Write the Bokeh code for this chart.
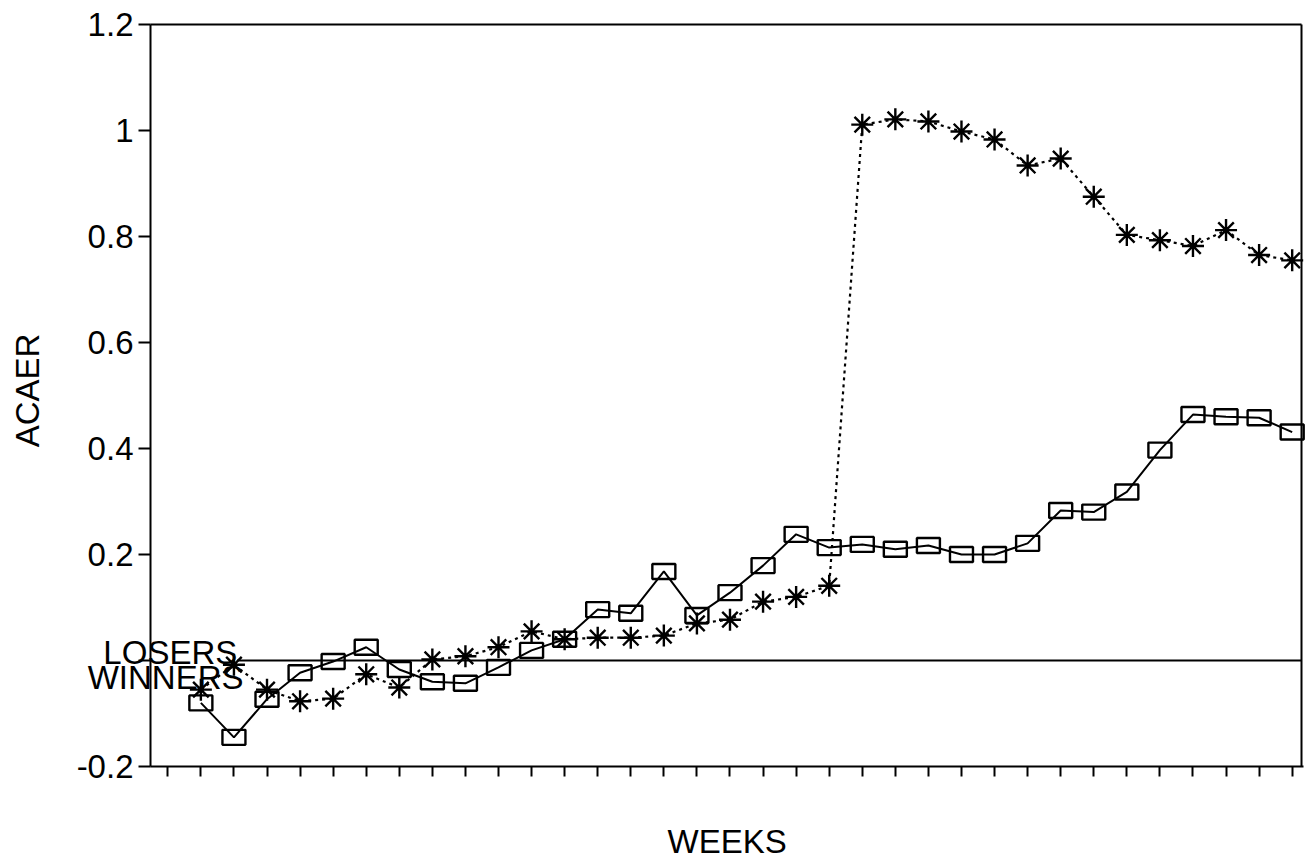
import math
from bokeh.plotting import figure
from bokeh.models import FixedTicker, Range1d, LinearAxis, Title
from bokeh.core.properties import value
from bokeh.embed import file_html
from bokeh.resources import INLINE

# ---- data ----
WEEKS = list(range(2, 36))
WINNERS = [-0.080, -0.145, -0.073, -0.023, -0.002, 0.025, -0.017, -0.040, -0.043, -0.013,
           0.019, 0.040, 0.096, 0.089, 0.168, 0.085, 0.128, 0.179, 0.238, 0.213,
           0.219, 0.210, 0.217, 0.200, 0.200, 0.221, 0.283, 0.280, 0.318, 0.397,
           0.464, 0.460, 0.458, 0.431]
LOSERS = [-0.055, -0.008, -0.055, -0.077, -0.072, -0.026, -0.051, 0.002, 0.008, 0.025,
          0.055, 0.040, 0.043, 0.043, 0.047, 0.070, 0.077, 0.111, 0.120, 0.141,
          1.011, 1.021, 1.017, 0.998, 0.983, 0.934, 0.947, 0.875, 0.803, 0.793,
          0.782, 0.812, 0.765, 0.755]
X_TICKS = list(range(1, 36))
Y_TICKS = [-0.2, 0.0, 0.2, 0.4, 0.6, 0.8, 1.0, 1.2]
Y_TICK_LABELS = {-0.2: "-0.2", 0.0: "", 0.2: "0.2", 0.4: "0.4", 0.6: "0.6",
                 0.8: "0.8", 1.0: "1", 1.2: "1.2"}
SERIES_LABELS = ["LOSERS", "WINNERS"]
X_TITLE = "WEEKS"
Y_TITLE = "ACAER"

FONT = "Liberation Sans"

# ---- layout constants (data-space positions of the drawn box) ----
Y_MIN, Y_MAX = -0.2, 1.2          # visible value axis
X_BOX_LEFT = 0.4768               # left axis line
X_BOX_RIGHT = 35.2819             # right border
X_AXIS_END = 35.3424              # bottom axis runs slightly past the border
X_TICKLABEL_POS = -1.4887         # anchor of the value labels

# The plotting area is made larger than the drawn box so that the series
# labels and the y title, which sit left of the axis in the original, are
# not clipped.
p = figure(width=1305, height=859, output_backend="svg", toolbar_location=None,
           x_range=Range1d(-3.6961, 35.4028), y_range=Range1d(-0.3019, 1.2377),
           x_axis_location=None, y_axis_location=None,
           min_border_left=12, min_border_right=0, min_border_top=4,
           min_border_bottom=0)
p.background_fill_color = "white"
p.border_fill_color = "white"
p.outline_line_color = None
p.grid.visible = False


def styled(ax, line=True):
    ax.minor_tick_in = 0
    ax.minor_tick_out = 0
    ax.minor_tick_line_color = None
    ax.axis_line_width = 2
    ax.axis_line_color = "black" if line else None
    ax.major_tick_line_width = 2
    ax.major_tick_line_color = "black"
    ax.major_label_text_font = FONT
    ax.major_label_text_font_size = "33px"
    ax.major_label_text_color = "black"
    ax.axis_label_text_font = FONT
    ax.axis_label_text_font_size = "33px"
    ax.axis_label_text_font_style = "normal"
    ax.axis_label_text_color = "black"
    return ax


# bottom axis (ticks pointing down, no labels)
x_axis = styled(LinearAxis(ticker=FixedTicker(ticks=X_TICKS),
                           major_label_overrides={t: "" for t in X_TICKS},
                           fixed_location=Y_MIN, bounds=(X_BOX_LEFT, X_AXIS_END),
                           major_tick_in=10, major_tick_out=0, major_label_standoff=0))
p.add_layout(x_axis, "above")

# top border
top_border = styled(LinearAxis(ticker=FixedTicker(ticks=[]), fixed_location=Y_MAX,
                               bounds=(X_BOX_LEFT, X_BOX_RIGHT), major_tick_in=0,
                               major_tick_out=0, major_label_standoff=0))
p.add_layout(top_border, "above")

# left axis line + ticks pointing left
y_ticks_axis = styled(LinearAxis(ticker=FixedTicker(ticks=Y_TICKS),
                                 major_label_overrides={t: "" for t in Y_TICKS},
                                 fixed_location=X_BOX_LEFT, bounds=(Y_MIN, Y_MAX),
                                 major_tick_in=12, major_tick_out=0,
                                 major_label_standoff=0))
p.add_layout(y_ticks_axis, "right")

# right border
right_border = styled(LinearAxis(ticker=FixedTicker(ticks=[]), fixed_location=X_BOX_RIGHT,
                                 bounds=(Y_MIN, Y_MAX), major_tick_in=0, major_tick_out=0,
                                 major_label_standoff=0))
p.add_layout(right_border, "right")

# value labels
y_label_axis = styled(LinearAxis(ticker=FixedTicker(ticks=Y_TICKS),
                                 major_label_overrides=Y_TICK_LABELS,
                                 fixed_location=X_TICKLABEL_POS, bounds=(Y_MIN, Y_MAX),
                                 major_tick_in=0, major_tick_out=0,
                                 major_label_standoff=-48), line=False)
y_label_axis.major_tick_line_color = None
p.add_layout(y_label_axis, "left")

# x title
p.add_layout(Title(text=X_TITLE, align="left", offset=655, vertical_align="bottom",
                   standoff=0, text_font=FONT, text_font_size="33px",
                   text_font_style="normal", text_color="black"), "below")

# y title (rotated text)
p.text(x=[-3.2576], y=[0.5094], text=[Y_TITLE], angle=math.pi / 2,
       text_font=value(FONT), text_font_size="33px", text_align="center",
       text_baseline="middle", text_color="black")

# zero reference line
p.segment(x0=[3.1], y0=[0.0], x1=[X_BOX_RIGHT], y1=[0.0], line_color="black",
          line_width=1.8)

# losers: dotted line with asterisks
p.line(WEEKS, LOSERS, line_color="black", line_width=2.2, line_dash="3 4")
p.scatter(WEEKS, LOSERS, marker="asterisk", size=22, line_color="black", line_width=2.4)

# winners: solid line with hollow rectangles
p.line(WEEKS, WINNERS, line_color="black", line_width=2)
p.rect(WEEKS, WINNERS, width=23, height=15, width_units="screen", height_units="screen",
       fill_alpha=0, line_color="black", line_width=2.4)

# series labels
p.text(x=[3.1, 3.29], y=[0.016, -0.033], text=SERIES_LABELS,
       text_font=value(FONT), text_font_size="33px", text_align="right",
       text_baseline="alphabetic", text_color="black")

open("out.html", "w").write(file_html(p, INLINE))
